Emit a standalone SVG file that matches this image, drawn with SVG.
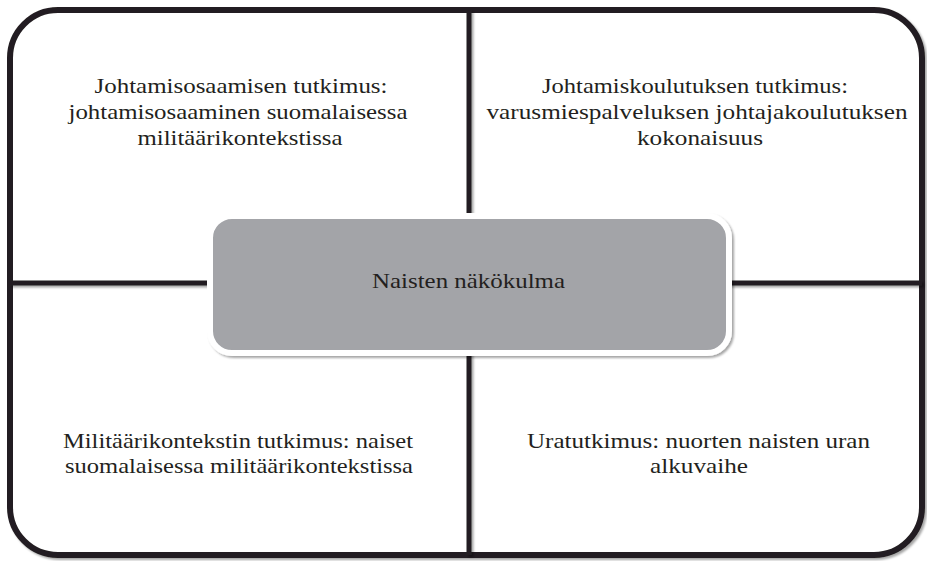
<svg xmlns="http://www.w3.org/2000/svg" width="927" height="561" viewBox="0 0 927 561">
  <style>
    .lbl { font-family: "Liberation Serif", "DejaVu Serif", serif; font-size: 21px; fill: #231f20; text-anchor: middle; }
    .bar { stroke: #231f20; stroke-width: 5; fill: none; }
  </style>
  <defs>
    <filter id="shadow" x="-5%" y="-5%" width="110%" height="110%">
      <feDropShadow dx="2" dy="2" stdDeviation="1.2" flood-color="#000" flood-opacity="0.35"/>
    </filter>
  </defs>
  <rect width="927" height="561" fill="#ffffff"/>

  <!-- outer frame -->
  <g id="frame">
    <rect x="10" y="10" width="912" height="545" rx="48" ry="48" fill="#ffffff" stroke="#231f20" stroke-width="6" filter="url(#shadow)"/>
  </g>

  <!-- dividing bars between the quadrants -->
  <g id="connectors" filter="url(#shadow)">
    <line class="bar" x1="469" y1="10" x2="469" y2="218"/>
    <line class="bar" x1="469" y1="352" x2="469" y2="555"/>
    <line class="bar" x1="10" y1="283" x2="210" y2="283"/>
    <line class="bar" x1="728" y1="283" x2="922" y2="283"/>
  </g>

  <g id="q-top-left">
    <text class="lbl" x="241" y="93" textLength="293" lengthAdjust="spacingAndGlyphs">Johtamisosaamisen tutkimus:</text>
    <text class="lbl" x="238" y="119" textLength="339" lengthAdjust="spacingAndGlyphs">johtamisosaaminen suomalaisessa</text>
    <text class="lbl" x="240" y="145" textLength="205" lengthAdjust="spacingAndGlyphs">militäärikontekstissa</text>
  </g>

  <g id="q-top-right">
    <text class="lbl" x="695" y="93" textLength="306" lengthAdjust="spacingAndGlyphs">Johtamiskoulutuksen tutkimus:</text>
    <text class="lbl" x="697" y="119" textLength="421" lengthAdjust="spacingAndGlyphs">varusmiespalveluksen johtajakoulutuksen</text>
    <text class="lbl" x="700" y="145" textLength="126" lengthAdjust="spacingAndGlyphs">kokonaisuus</text>
  </g>

  <g id="q-bottom-left">
    <text class="lbl" x="238" y="448" textLength="350" lengthAdjust="spacingAndGlyphs">Militäärikontekstin tutkimus: naiset</text>
    <text class="lbl" x="239" y="473" textLength="348" lengthAdjust="spacingAndGlyphs">suomalaisessa militäärikontekstissa</text>
  </g>

  <g id="q-bottom-right">
    <text class="lbl" x="698.5" y="448" textLength="343" lengthAdjust="spacingAndGlyphs">Uratutkimus: nuorten naisten uran</text>
    <text class="lbl" x="699" y="473" textLength="98" lengthAdjust="spacingAndGlyphs">alkuvaihe</text>
  </g>

  <g id="center">
    <rect x="210" y="216" width="519" height="137" rx="22" ry="22" fill="#a3a4a8" stroke="#ffffff" stroke-width="6" filter="url(#shadow)"/>
    <text class="lbl" x="468.5" y="288" textLength="193" lengthAdjust="spacingAndGlyphs">Naisten näkökulma</text>
  </g>
</svg>
